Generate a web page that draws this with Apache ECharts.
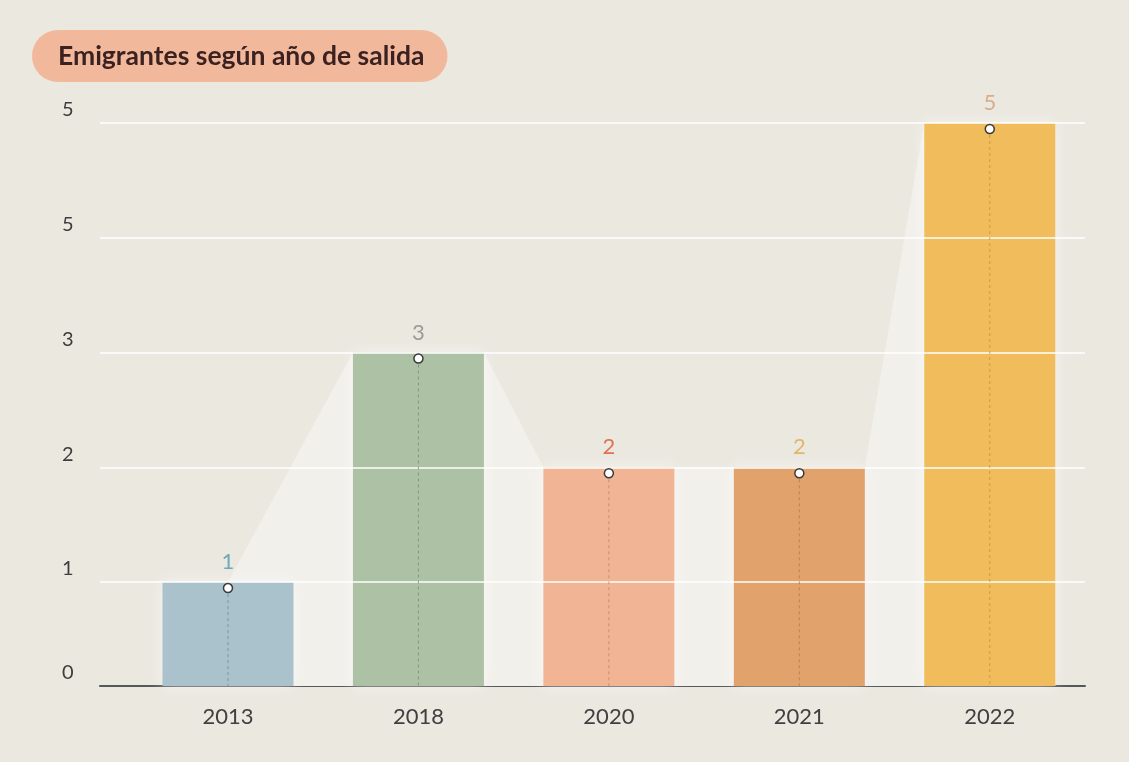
<!DOCTYPE html>
<html>
<head>
<meta charset="utf-8">
<script src="https://cdn.jsdelivr.net/npm/echarts@6/dist/echarts.min.js"></script>
<style>
html,body{margin:0;padding:0;background:#ebe8e0;}
#chart{width:1129px;height:762px;}
</style>
</head>
<body>
<div id="chart"></div>
<script>
const titleText = 'Emigrantes según año de salida';
const years = ['2013', '2018', '2020', '2021', '2022'];
const values = [1, 3, 2, 2, 5];
const barColors = ['#aac2cc', '#adc1a5', '#f1b495', '#e2a26b', '#f0bc5c'];
const labelColors = ['#6fa9b9', '#9a9a96', '#e2714f', '#e3b56c', '#d8ae8a'];
const lineColors = ['#6f8d98', '#7c8f74', '#c58567', '#b57a48', '#c4934a'];
const yTickValues = [0.094, 1, 2, 3, 4, 5];
const yTickLabels = ['0', '1', '2', '3', '5', '5'];
const gridValues = [1, 2, 3, 4, 5];

const yMin = 0.094, yMax = 5;
const halfBar = 0.344; // half bar width in x-axis units

const areaPts = [];
values.forEach((v, i) => {
  if (i === 0) { areaPts.push([i, v]); }
  else { areaPts.push([i - halfBar, v]); areaPts.push([i + halfBar, v]); }
});

function yLabel(v) {
  let best = 0, bd = Infinity;
  yTickValues.forEach((t, k) => { const d = Math.abs(t - v); if (d < bd) { bd = d; best = k; } });
  return yTickLabels[best];
}

const chart = echarts.init(document.getElementById('chart'));
chart.setOption({
  backgroundColor: '#ebe8e0',
  textStyle: { fontFamily: 'Lato' },
  title: {
    text: titleText,
    left: 32, top: 30,
    backgroundColor: '#f2b89c',
    borderRadius: 26,
    padding: [12, 23, 12, 26],
    textStyle: { fontFamily: 'Lato', fontWeight: 'bold', fontSize: 26.5, lineHeight: 28, color: '#3b2220' }
  },
  grid: { left: 100, right: 44, top: 123, bottom: 76 },
  xAxis: {
    type: 'value', min: -0.672, max: 4.5,
    splitLine: { show: false },
    axisTick: { show: false },
    axisLine: { show: true, lineStyle: { color: '#55585a', width: 2 } },
    axisLabel: {
      customValues: [0, 1, 2, 3, 4],
      formatter: v => years[Math.round(v)],
      fontFamily: 'Lato', fontSize: 22, color: '#404040', margin: 20
    }
  },
  yAxis: {
    type: 'value', min: yMin, max: yMax,
    splitLine: { show: false },
    axisTick: { show: false },
    axisLine: { show: false },
    axisLabel: {
      show: true,
      customValues: yTickValues,
      formatter: v => yLabel(v),
      showMinLabel: true, showMaxLabel: true,
      align: 'left', margin: 38, verticalAlign: 'bottom', padding: [0, 0, 3, 0],
      fontFamily: 'Lato', fontSize: 20, color: '#3d3d3d'
    }
  },
  series: [
    {
      type: 'line', z: 1, silent: true,
      data: areaPts, symbol: 'none',
      lineStyle: { width: 0 },
      areaStyle: { color: '#f2f0eb', opacity: 1, origin: 'start' },
      markLine: {
        silent: true, symbol: 'none', z: 5,
        label: { show: false },
        lineStyle: { color: 'rgba(255,255,255,0.75)', width: 2, type: 'solid' },
        data: gridValues.map(v => ({ yAxis: v }))
      }
    },
    {
      type: 'bar', z: 2, barWidth: 131,
      data: values.map((v, i) => ({
        value: [i, v],
        itemStyle: { color: barColors[i] },
        label: { color: labelColors[i] }
      })),
      itemStyle: { shadowBlur: 14, shadowColor: 'rgba(255,255,255,0.55)' },
      label: { show: true, position: 'top', distance: 9, fontFamily: 'Lato', fontSize: 22,
        formatter: p => p.value[1] }
    },
    {
      type: 'custom', z: 6, silent: true,
      data: values.map((v, i) => [i, v]),
      renderItem: (params, api) => {
        const i = api.value(0), v = api.value(1);
        const top = api.coord([i, v]);
        const bot = api.coord([i, yMin]);
        return {
          type: 'line',
          shape: { x1: top[0], y1: top[1] + 6, x2: bot[0], y2: bot[1] },
          style: { stroke: lineColors[params.dataIndex], lineWidth: 1, lineDash: [3, 3], opacity: 0.8 }
        };
      }
    },
    {
      type: 'scatter', z: 7, silent: true,
      data: values.map((v, i) => [i, v]),
      symbol: 'circle', symbolSize: 9, symbolOffset: [0, 6],
      itemStyle: { color: '#ffffff', borderColor: '#3a3a3a', borderWidth: 1.5, opacity: 1 }
    }
  ]
});
</script>
</body>
</html>
